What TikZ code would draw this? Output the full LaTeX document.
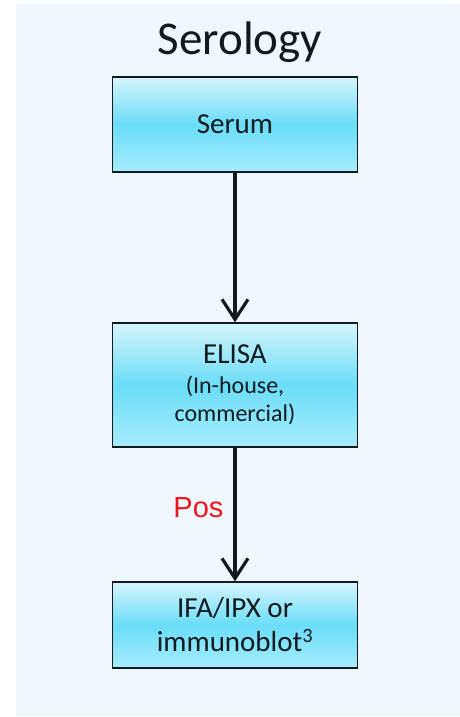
\documentclass[tikz,border=0pt]{standalone}
\usepackage{fontspec}
\setmainfont{Carlito}
\newfontfamily\arialfont{Liberation Sans}
\usepackage{tikz}
\usetikzlibrary{positioning,arrows.meta}
\definecolor{PanelBlue}{HTML}{EEF8FE}
\definecolor{BoxTop}{HTML}{D6F5FD}
\definecolor{BoxMid}{HTML}{6ADDF8}
\definecolor{BoxBottom}{HTML}{A6EDFC}
\definecolor{EdgeDark}{HTML}{111A1E}
\definecolor{PosRed}{HTML}{F0141E}
\tikzset{
  testbox/.style={draw=EdgeDark,line width=1.4pt,
    top color=BoxTop,bottom color=BoxBottom,middle color=BoxMid,
    minimum width=245pt,align=center,inner sep=2pt,
    font=\fontsize{29}{34}\selectfont,text=EdgeDark},
  flowarrow/.style={line width=3.2pt,draw=EdgeDark,
    -{Straight Barb[length=20pt,width=26pt,line width=3.2pt]}},
  poslabel/.style={font=\arialfont\fontsize{29}{34}\selectfont,text=PosRed,inner sep=0pt},
}
\begin{document}
\begin{tikzpicture}[x=1pt,y=-1pt]
  \useasboundingbox (0,0) rectangle (460,717);
  \fill[PanelBlue] (16,4) rectangle (460,716);
  \node[font=\fontsize{47}{54}\selectfont,text=EdgeDark,anchor=base] (title) at (240,55) {Serology};
  \node[testbox,minimum height=95pt] (serum) at (235,124.5) {Serum};
  \node[testbox,minimum height=124pt] (elisa) at (235,385)
    {ELISA\\[-4pt]{\fontsize{24}{28}\selectfont (In-house,}\\[-6pt]{\fontsize{24}{28}\selectfont commercial)}};
  \node[testbox,minimum height=86pt] (ifa) at (235,625) {IFA/IPX or\\immunoblot\textsuperscript{3}};
  \draw[flowarrow] (serum.south) -- (elisa.north);
  \draw[flowarrow] (elisa.south) -- node[poslabel,pos=0.45,left=10pt] (pos) {Pos} (ifa.north);
\end{tikzpicture}
\end{document}
